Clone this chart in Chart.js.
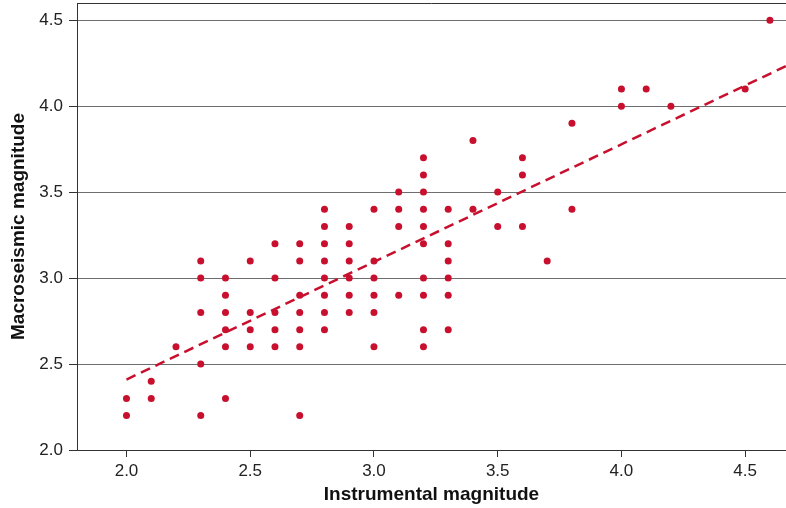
<!DOCTYPE html>
<html>
<head>
<meta charset="utf-8">
<script src="https://cdn.jsdelivr.net/npm/chart.js@4.4.1/dist/chart.umd.min.js"></script>
<style>
  body { margin: 0; background: #fff; }
  #wrap { width: 786px; height: 508px; }
</style>
</head>
<body>
<div id="wrap"><canvas id="magChart"></canvas></div>
<script>
// instrumental magnitude columns and the macroseismic values seen in each column
const instrumental = [2.0, 2.1, 2.2, 2.3, 2.4, 2.5, 2.6, 2.7, 2.8, 2.9, 3.0, 3.1, 3.2, 3.3, 3.4, 3.5, 3.6, 3.7, 3.8, 4.0, 4.1, 4.2, 4.5, 4.6];
const macroseismic = [
  [2.3, 2.2],
  [2.4, 2.3],
  [2.6],
  [3.1, 3.0, 2.8, 2.5, 2.2],
  [3.0, 2.9, 2.8, 2.7, 2.6, 2.3],
  [3.1, 2.8, 2.7, 2.6],
  [3.2, 3.0, 2.8, 2.7, 2.6],
  [3.2, 3.1, 2.9, 2.8, 2.7, 2.6, 2.2],
  [3.4, 3.3, 3.2, 3.1, 3.0, 2.9, 2.8, 2.7],
  [3.3, 3.2, 3.1, 3.0, 2.9, 2.8],
  [3.4, 3.1, 3.0, 2.9, 2.8, 2.6],
  [3.5, 3.4, 3.3, 2.9],
  [3.7, 3.6, 3.5, 3.4, 3.3, 3.2, 3.0, 2.9, 2.7, 2.6],
  [3.4, 3.2, 3.1, 3.0, 2.9, 2.7],
  [3.8, 3.4],
  [3.5, 3.3],
  [3.7, 3.6, 3.3],
  [3.1],
  [3.9, 3.4],
  [4.1, 4.0],
  [4.1],
  [4.0],
  [4.1],
  [4.5]
];
// dashed fit line, ends
const fitX = [2.0, 4.665];
const fitY = [2.41, 4.233];

const xTicks = [2.0, 2.5, 3.0, 3.5, 4.0, 4.5];
const yTicks = [2.0, 2.5, 3.0, 3.5, 4.0, 4.5];

const points = [];
instrumental.forEach((x, i) => {
  macroseismic[i].forEach(y => points.push({ x: x, y: y }));
});
const fitLine = fitX.map((x, i) => ({ x: x, y: fitY[i] }));

const RED = '#c8102e';
const FONT = "'Liberation Sans', Arial, sans-serif";

// chart.js has no top frame line by default
const topBorder = {
  id: 'topBorder',
  afterDraw(chart) {
    const { ctx, chartArea } = chart;
    ctx.save();
    ctx.strokeStyle = '#333';
    ctx.lineWidth = 1;
    ctx.beginPath();
    ctx.moveTo(chartArea.left, chartArea.top + 0.5);
    ctx.lineTo(chartArea.right, chartArea.top + 0.5);
    ctx.stroke();
    ctx.restore();
  }
};

new Chart(document.getElementById('magChart'), {
  type: 'scatter',
  data: {
    datasets: [
      {
        label: 'Earthquakes',
        data: points,
        backgroundColor: RED,
        borderWidth: 0,
        pointRadius: 3.5,
        order: 2
      },
      {
        type: 'line',
        label: 'Fit',
        data: fitLine,
        borderColor: RED,
        borderWidth: 2.5,
        borderDash: [10, 6],
        pointRadius: 0,
        fill: false,
        order: 1
      }
    ]
  },
  plugins: [topBorder],
  options: {
    responsive: true,
    maintainAspectRatio: false,
    animation: false,
    layout: { autoPadding: false, padding: { top: 3, right: 0, bottom: 0, left: 0 } },
    plugins: {
      legend: { display: false },
      tooltip: { enabled: false }
    },
    scales: {
      x: {
        type: 'linear',
        min: 1.8,
        max: 4.665,
        afterBuildTicks: s => { s.ticks = xTicks.map(v => ({ value: v })); },
        afterFit: s => { s.height = 58; s.paddingLeft = 0; s.paddingRight = 0; },
        border: { display: true, color: '#333', width: 1 },
        grid: { drawOnChartArea: false, drawTicks: true, tickLength: 7, tickColor: '#333' },
        ticks: {
          padding: 4,
          color: '#222',
          font: { family: FONT, size: 17 },
          callback: v => v.toFixed(1)
        },
        title: {
          display: true,
          text: 'Instrumental magnitude',
          color: '#111',
          font: { family: FONT, size: 19, weight: 'bold' },
          padding: { top: 0, bottom: 2 }
        }
      },
      y: {
        type: 'linear',
        min: 2.0,
        max: 4.6,
        afterBuildTicks: s => { s.ticks = yTicks.map(v => ({ value: v })); },
        afterFit: s => { s.width = 77; s.paddingTop = 0; s.paddingBottom = 0; },
        border: { display: true, color: '#333', width: 1 },
        grid: { color: '#6e6e6e', lineWidth: 1, drawTicks: true, tickLength: 8, tickColor: '#333' },
        ticks: {
          padding: 6,
          color: '#222',
          font: { family: FONT, size: 17 },
          callback: v => v.toFixed(1)
        },
        title: {
          display: true,
          text: 'Macroseismic magnitude',
          color: '#111',
          font: { family: FONT, size: 19, weight: 'bold' },
          padding: { top: 7, bottom: 0 }
        }
      }
    }
  }
});
</script>
</body>
</html>
